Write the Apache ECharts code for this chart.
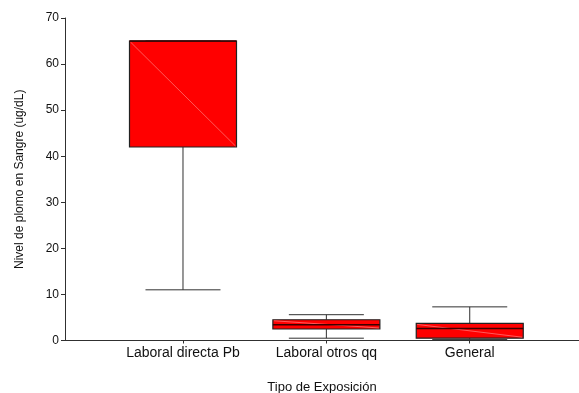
<!DOCTYPE html>
<html>
<head>
<meta charset="utf-8">
<script src="https://cdn.jsdelivr.net/npm/echarts@6/dist/echarts.min.js"></script>
<style>
  html, body { margin: 0; padding: 0; background: #fff; }
  #chart { width: 579px; height: 393px; }
</style>
</head>
<body>
<div id="chart"></div>
<script>
// Blood lead level by exposure type (box summaries)
const categories = ['Laboral directa Pb', 'Laboral otros qq', 'General'];
const whiskerLow = [11, 0.5, 0.2];
const q1 = [42, 2.5, 0.5];
const median = [65, 3.4, 2.6];
const q3 = [65, 4.5, 3.7];
const whiskerHigh = [65, 5.6, 7.3];
const yTicks = [0, 10, 20, 30, 40, 50, 60, 70];

const boxData = categories.map((c, i) => [i, whiskerLow[i], q1[i], median[i], q3[i], whiskerHigh[i]]);

const BOX_W = 107;
const CAP_W = 75;
const LINE = '#303030';

function renderBox(params, api) {
  const x = api.value(0);
  const pLow = api.coord([x, api.value(1)]);
  const pQ1 = api.coord([x, api.value(2)]);
  const pMed = api.coord([x, api.value(3)]);
  const pQ3 = api.coord([x, api.value(4)]);
  const pHigh = api.coord([x, api.value(5)]);
  const cx = pQ1[0];
  const left = cx - BOX_W / 2, right = cx + BOX_W / 2;
  const children = [];
  // whiskers
  children.push({ type: 'line', shape: { x1: cx, y1: pHigh[1], x2: cx, y2: pQ3[1] }, style: { stroke: LINE, lineWidth: 1 } });
  children.push({ type: 'line', shape: { x1: cx, y1: pQ1[1], x2: cx, y2: pLow[1] }, style: { stroke: LINE, lineWidth: 1 } });
  children.push({ type: 'line', shape: { x1: cx - CAP_W / 2, y1: pHigh[1], x2: cx + CAP_W / 2, y2: pHigh[1] }, style: { stroke: LINE, lineWidth: 1 } });
  children.push({ type: 'line', shape: { x1: cx - CAP_W / 2, y1: pLow[1], x2: cx + CAP_W / 2, y2: pLow[1] }, style: { stroke: LINE, lineWidth: 1 } });
  // box
  children.push({ type: 'rect', shape: { x: left, y: pQ3[1], width: BOX_W, height: pQ1[1] - pQ3[1] }, style: { fill: '#ff0000', stroke: '#222', lineWidth: 1.2 } });
  // light diagonal across the fill
  children.push({ type: 'line', shape: { x1: left + 1, y1: pQ3[1] + 1, x2: right - 1, y2: pQ1[1] - 1 }, style: { stroke: 'rgba(255,150,150,0.75)', lineWidth: 0.8 } });
  // median
  children.push({ type: 'line', shape: { x1: left, y1: pMed[1], x2: right, y2: pMed[1] }, style: { stroke: '#3a0000', lineWidth: 1.5 } });
  return { type: 'group', children };
}

const chart = echarts.init(document.getElementById('chart'), null, { renderer: 'canvas' });
chart.setOption({
  animation: false,
  backgroundColor: '#ffffff',
  grid: { left: 65, right: 0, top: 18, bottom: 52.5, outerBoundsMode: 'none', containLabel: false },
  xAxis: {
    type: 'value',
    min: -0.823,
    max: 2.762,
    name: 'Tipo de Exposición',
    nameLocation: 'middle',
    nameGap: 40,
    nameTextStyle: { fontFamily: 'Liberation Sans', fontSize: 13, color: '#111' },
    axisLine: { show: true, onZero: false, lineStyle: { color: LINE, width: 1 } },
    axisTick: { show: true, length: 3, customValues: [0, 1, 2], lineStyle: { color: LINE } },
    axisLabel: {
      customValues: [0, 1, 2],
      formatter: v => categories[Math.round(v)] || '',
      fontFamily: 'Liberation Sans', fontSize: 14, color: '#111', margin: 6
    },
    splitLine: { show: false }
  },
  yAxis: {
    type: 'value',
    min: 0,
    max: 70,
    interval: 10,
    name: 'Nivel de plomo en Sangre (ug/dL)',
    nameLocation: 'middle',
    nameGap: 39,
    nameTextStyle: { fontFamily: 'Liberation Sans', fontSize: 12, color: '#111' },
    axisLine: { show: true, onZero: false, lineStyle: { color: LINE, width: 1 } },
    axisTick: { show: true, length: 4, lineStyle: { color: LINE } },
    axisLabel: {
      customValues: yTicks,
      fontFamily: 'Liberation Sans', fontSize: 12, color: '#111', margin: 6
    },
    splitLine: { show: false }
  },
  series: [{
    type: 'custom',
    renderItem: renderBox,
    encode: { x: 0, y: [1, 2, 3, 4, 5] },
    data: boxData
  }]
});
</script>
</body>
</html>
